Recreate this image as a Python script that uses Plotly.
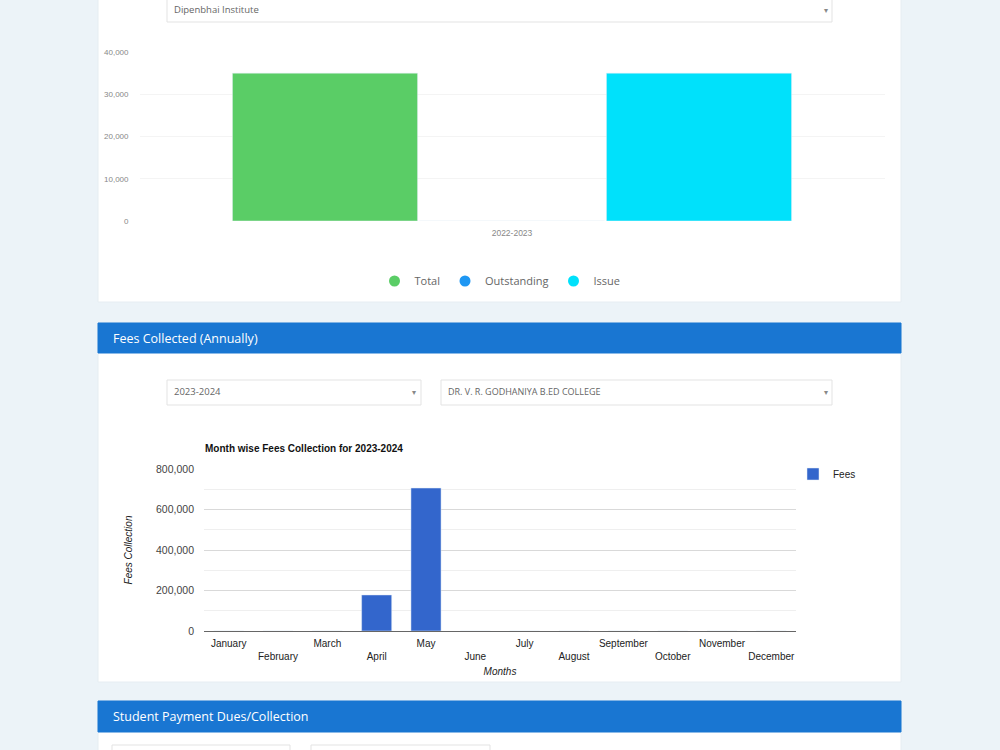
import plotly.graph_objects as go

# ---------------- data ----------------
years = ["2022-2023"]
total = [35000]
outstanding = [0]
issue = [35000]

months = ["January", "February", "March", "April", "May", "June",
          "July", "August", "September", "October", "November", "December"]
fees = [0, 0, 0, 178000, 706000, 0, 0, 0, 0, 0, 0, 0]

chart1_ticks = [0, 10000, 20000, 30000, 40000]
chart2_ticks = [0, 200000, 400000, 600000, 800000]

# ---------------- helpers ----------------
W, H = 1000, 750
def px(x):
    return x / W
def py(y):
    return 1 - y / H

def rect(x0, y0, x1, y1, fill, line=None, lw=1):
    return dict(type="rect", xref="paper", yref="paper",
                x0=px(x0), x1=px(x1), y0=py(y1), y1=py(y0),
                fillcolor=fill, line=dict(color=line or fill, width=lw),
                layer="below")

def text(x, y, s, size=11, color="#555", family="Open Sans", xanchor="left", **kw):
    return dict(x=px(x), y=py(y), xref="paper", yref="paper", text=s,
                showarrow=False, xanchor=xanchor, yanchor="middle",
                font=dict(size=size, color=color, family=family), **kw)

UI_FONT = "Open Sans"
G_FONT = "Liberation Sans, Arial"
HEADER = "#1976d2"
BG = "#ecf3f8"

fig = go.Figure()

# ---------------- chart 1 (Chart.js style) ----------------
fig.add_trace(go.Bar(x=years, y=total, name="Total", marker_color="#5acd66",
                     showlegend=False, xaxis="x", yaxis="y"))
fig.add_trace(go.Bar(x=years, y=outstanding, name="Outstanding", marker_color="#1e97f3",
                     showlegend=False, xaxis="x", yaxis="y"))
fig.add_trace(go.Bar(x=years, y=issue, name="Issue", marker_color="#00e1fb",
                     showlegend=False, xaxis="x", yaxis="y"))
for nm, col in [("Total", "#5acd66"), ("Outstanding", "#1e97f3"), ("Issue", "#00e1fb")]:
    fig.add_trace(go.Scatter(x=[None], y=[None], mode="markers", name=nm,
                             marker=dict(symbol="circle", size=11, color=col),
                             xaxis="x", yaxis="y", legend="legend"))

# ---------------- chart 2 (Google Charts style) ----------------
fig.add_trace(go.Bar(x=months, y=fees, name="Fees", marker_color="#3366cc",
                     width=0.61, xaxis="x2", yaxis="y2", legend="legend2"))

month_ticktext = [m if i % 2 == 0 else "<br>" + m for i, m in enumerate(months)]

shapes = [
    # top card
    rect(98, -10, 901, 302, "white", line="#e6edf2"),
    rect(167, -5, 832, 22, "white", line="#e3e3e3"),
    # card 2
    rect(98, 323, 901, 682, "white", line="#e6edf2"),
    rect(98, 323, 901, 353, HEADER),
    rect(167, 380, 421, 405, "white", line="#e3e3e3"),
    rect(441, 380, 832, 405, "white", line="#e3e3e3"),
    # card 3
    rect(98, 701, 901, 760, "white", line="#e6edf2"),
    rect(98, 701, 901, 732, HEADER),
    rect(112, 745, 290, 770, "white", line="#e3e3e3"),
    rect(311, 745, 490, 770, "white", line="#e3e3e3"),
]

annotations = [
    text(172, 10, "Dipenbhai Institute", size=9.5, color="#666"),
    text(826, 10, "▾", size=8, color="#888", xanchor="center"),
    text(111, 338, "Fees Collected (Annually)", size=12.5, color="white"),
    text(172, 392, "2023-2024", size=9.5, color="#666"),
    text(414, 392, "▾", size=8, color="#888", xanchor="center"),
    text(446, 392, "DR. V. R. GODHANIYA B.ED COLLEGE", size=9, color="#666"),
    text(826, 392, "▾", size=8, color="#888", xanchor="center"),
    text(111, 716, "Student Payment Dues/Collection", size=12.5, color="white"),
    text(203, 448, "<b>Month wise Fees Collection for 2023-2024</b>", size=10,
         color="#111", family=G_FONT),
]

fig.update_layout(
    width=W, height=H,
    margin=dict(l=0, r=0, t=0, b=0, autoexpand=False),
    paper_bgcolor=BG,
    plot_bgcolor="white",
    barmode="group",
    bargap=0.247,
    bargroupgap=0.01,
    shapes=shapes,
    annotations=annotations,
    xaxis=dict(domain=[px(139.5), px(884.5)], anchor="y",
               showgrid=False, showline=False, ticks="",
               tickfont=dict(size=8.5, color="#888", family=G_FONT),
               ticklabelstandoff=5, fixedrange=True),
    yaxis=dict(domain=[py(221), py(52)], anchor="x", range=[0, 40000],
               tickvals=chart1_ticks, tickformat=",d",
               showgrid=True, gridcolor="#f4f4f4", zeroline=False,
               tickfont=dict(size=8, color="#888", family=G_FONT),
               ticklabelstandoff=10),
    xaxis2=dict(domain=[px(204), px(796)], anchor="y2", range=[-0.5, 11.5],
                tickvals=months, ticktext=month_ticktext,
                showgrid=False, showline=True, linecolor="#666", linewidth=1,
                ticks="", tickangle=0,
                tickfont=dict(size=10, color="#222", family=G_FONT),
                ticklabelstandoff=3,
                title=dict(text="Months", standoff=6,
                           font=dict(size=10, color="#222", family=G_FONT,
                                     style="italic"))),
    yaxis2=dict(domain=[py(631), py(469)], anchor="x2", range=[0, 800000],
                tickvals=chart2_ticks, tickformat=",d",
                showgrid=True, gridcolor="#d9d9d9", zeroline=False,
                minor=dict(dtick=100000, showgrid=True, gridcolor="#efefef"),
                tickfont=dict(size=10.5, color="#444", family=G_FONT),
                ticklabelstandoff=9,
                title=dict(text="Fees Collection", standoff=21,
                           font=dict(size=10, color="#222", family=G_FONT,
                                     style="italic"))),
    legend=dict(orientation="h", x=0.5, xanchor="center", y=py(281), yanchor="middle",
                font=dict(size=11, color="#666", family=UI_FONT),
                bgcolor="rgba(0,0,0,0)", itemwidth=30),
    legend2=dict(orientation="v", x=px(793), xanchor="left", y=py(474), yanchor="middle",
                 font=dict(size=10, color="#222", family=G_FONT),
                 bgcolor="rgba(0,0,0,0)"),
)

fig.write_html("out.html")
